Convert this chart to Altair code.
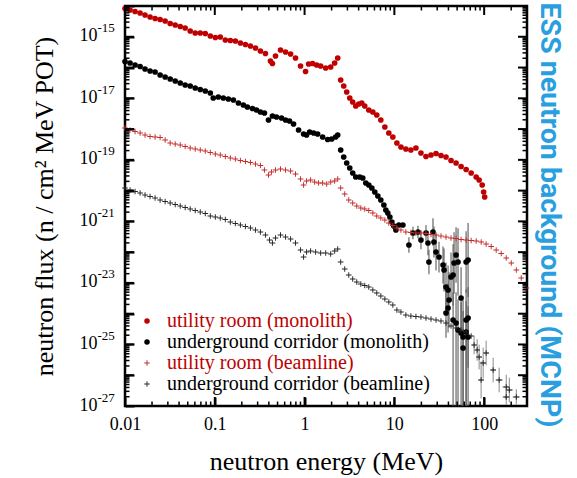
import altair as alt
import pandas as pd

# ---------------- data (log10 of energy in MeV, log10 of flux) ----------------
SERIES = ["utility room (monolith)", "underground corridor (monolith)",
          "utility room (beamline)", "underground corridor (beamline)"]

util_mono_logE = [-2.000,-1.944,-1.888,-1.832,-1.777,-1.721,-1.665,-1.609,-1.553,-1.497,
                  -1.441,-1.385,-1.330,-1.274,-1.218,-1.162,-1.106,-1.050,-0.994,-0.939,
                  -0.883,-0.827,-0.771,-0.715,-0.659,-0.603,-0.547,-0.492,-0.436,-0.380,
                  -0.358,-0.324,-0.268,-0.212,-0.156,-0.101,-0.045,0.011,0.045,0.089,
                  0.134,0.179,0.235,0.291,0.335,0.369,0.402,0.436,0.469,0.503,
                  0.536,0.570,0.603,0.637,0.670,0.715,0.760,0.804,0.849,0.894,
                  0.938,0.983,1.028,1.073,1.128,1.184,1.240,1.296,1.352,1.408,
                  1.464,1.519,1.575,1.631,1.687,1.743,1.799,1.855,1.911,1.944,
                  1.978,1.994,2.006]
util_mono_logF = [-14.081,-14.130,-14.179,-14.228,-14.293,-14.358,-14.406,-14.439,-14.488,-14.569,
                  -14.618,-14.666,-14.715,-14.813,-14.878,-14.878,-14.894,-14.975,-15.024,-15.008,
                  -15.105,-15.121,-15.138,-15.203,-15.251,-15.300,-15.365,-15.463,-15.544,-15.788,
                  -15.869,-15.625,-15.430,-15.495,-15.560,-15.690,-15.950,-16.129,-15.885,-15.869,
                  -15.918,-15.950,-16.015,-15.983,-15.853,-15.690,-16.405,-16.600,-16.795,-16.990,
                  -17.120,-17.250,-17.185,-17.153,-17.250,-17.380,-17.445,-17.543,-17.705,-17.933,
                  -18.128,-18.258,-18.453,-18.583,-18.648,-18.680,-18.615,-18.778,-18.891,-18.843,
                  -18.794,-18.859,-18.908,-19.021,-19.103,-19.216,-19.314,-19.428,-19.558,-19.655,
                  -19.818,-20.045,-20.208]

corr_mono_logE = [-2.000,-1.944,-1.888,-1.832,-1.777,-1.721,-1.665,-1.609,-1.553,-1.497,
                  -1.441,-1.385,-1.330,-1.274,-1.218,-1.162,-1.106,-1.050,-1.017,-0.961,
                  -0.905,-0.849,-0.793,-0.737,-0.682,-0.637,-0.581,-0.536,-0.492,-0.447,
                  -0.402,-0.358,-0.313,-0.257,-0.212,-0.168,-0.123,-0.067,-0.011,0.022,
                  0.056,0.101,0.145,0.201,0.257,0.302,0.346,0.369,0.402,0.436,
                  0.469,0.503,0.536,0.570,0.614,0.648,0.682,0.715,0.749,0.782,
                  0.816,0.849,0.883,0.905,0.927,0.950,0.972,0.994,1.017,1.050,
                  1.095]
corr_mono_logF = [-15.804,-15.853,-15.918,-15.966,-16.048,-16.113,-16.145,-16.243,-16.308,-16.373,
                  -16.438,-16.503,-16.568,-16.600,-16.665,-16.714,-16.763,-16.828,-16.990,-16.958,
                  -16.990,-17.023,-17.055,-17.153,-17.218,-17.283,-17.331,-17.380,-17.445,-17.478,
                  -17.705,-17.575,-17.608,-17.640,-17.705,-17.738,-17.835,-18.030,-18.160,-18.193,
                  -18.095,-18.128,-18.160,-18.258,-18.339,-18.323,-18.258,-18.193,-18.680,-18.908,
                  -19.103,-19.265,-19.428,-19.558,-19.558,-19.590,-19.753,-19.818,-19.915,-20.045,
                  -20.175,-20.305,-20.468,-20.630,-20.728,-20.858,-21.020,-21.150,-21.280,-21.118,
                  -21.118]

# high-energy part of the corridor (monolith) series, with its error bars
corr_mono_tail_logE = [1.162,1.207,1.263,1.296,1.352,1.374,1.385,1.430,1.441,1.464,
                       1.497,1.542,1.553,1.575,1.598,1.631,1.654,1.665,1.687,1.709,
                       1.799,1.821,1.575,1.598,1.609,1.654,1.687,1.709,1.743,1.743,
                       1.765,1.765,1.799,1.799,1.821,1.821]
corr_mono_tail_logF = [-21.768,-21.378,-21.345,-21.605,-21.378,-21.703,-22.320,-21.345,-21.670,-21.995,
                       -22.158,-22.418,-22.580,-23.133,-23.230,-22.808,-22.743,-22.353,-22.093,-22.320,
                       -22.320,-22.255,-23.978,-23.815,-23.555,-24.205,-24.303,-24.530,-23.490,-24.628,
                       -24.758,-25.115,-24.205,-24.595,-24.140,-24.758]
# ends of the error bars (log10 flux; -27 = running off the bottom of the plot)
corr_mono_tail_err_lo = [-22.018,-21.578,-21.545,-21.905,-21.628,-22.103,-22.720,-21.795,-22.170,-22.595,
                         -22.658,-23.018,-23.280,-23.933,-24.030,-23.608,-23.743,-23.353,-22.993,-23.420,
                         -23.320,-23.455,-24.778,-24.615,-24.455,-27.0,-27.0,-27.0,-24.490,-27.0,
                         -27.0,-27.0,-27.0,-27.0,-27.0,-25.758]
corr_mono_tail_err_hi = [-21.518,-21.178,-21.145,-21.305,-21.128,-21.303,-21.920,-20.895,-21.170,-21.395,
                         -21.658,-21.818,-21.880,-22.333,-22.430,-22.008,-21.743,-21.353,-21.193,-21.220,
                         -21.320,-21.055,-23.178,-23.015,-22.655,-23.305,-23.303,-23.530,-22.490,-23.628,
                         -23.558,-23.915,-23.205,-23.595,-23.140,-23.758]

util_beam_logE = [-2.000,-1.944,-1.888,-1.832,-1.777,-1.721,-1.665,-1.609,-1.553,-1.497,
                  -1.441,-1.385,-1.330,-1.274,-1.218,-1.162,-1.106,-1.050,-0.994,-0.939,
                  -0.883,-0.827,-0.771,-0.715,-0.659,-0.603,-0.547,-0.492,-0.447,-0.402,
                  -0.369,-0.324,-0.268,-0.212,-0.156,-0.101,-0.045,-0.011,0.022,0.067,
                  0.112,0.156,0.201,0.246,0.291,0.335,0.369,0.402,0.447,0.492,
                  0.536,0.581,0.626,0.670,0.715,0.760,0.804,0.849,0.894,0.938,
                  0.983,1.028,1.073,1.128,1.184,1.240,1.296,1.352,1.408,1.464,
                  1.519,1.575,1.631,1.687,1.743,1.799,1.855,1.911,1.967,2.022,
                  2.078,2.134,2.190,2.246,2.302,2.358,2.413,2.469]
util_beam_logF = [-17.965,-18.030,-18.079,-18.128,-18.193,-18.241,-18.258,-18.274,-18.355,-18.453,
                  -18.485,-18.518,-18.566,-18.615,-18.648,-18.680,-18.713,-18.761,-18.810,-18.843,
                  -18.891,-18.940,-18.973,-19.021,-19.054,-19.086,-19.135,-19.184,-19.330,-19.493,
                  -19.395,-19.330,-19.298,-19.330,-19.363,-19.460,-19.623,-19.818,-19.688,-19.655,
                  -19.720,-19.753,-19.753,-19.785,-19.720,-19.688,-19.623,-19.915,-20.110,-20.305,
                  -20.403,-20.500,-20.565,-20.598,-20.646,-20.728,-20.825,-20.890,-20.955,-21.053,
                  -21.134,-21.215,-21.280,-21.345,-21.361,-21.378,-21.378,-21.394,-21.426,-21.443,
                  -21.475,-21.508,-21.540,-21.556,-21.589,-21.605,-21.621,-21.638,-21.670,-21.735,
                  -21.816,-21.930,-22.044,-22.190,-22.353,-22.580,-22.840,-23.165]

corr_beam_logE = [-2.000,-1.944,-1.888,-1.832,-1.777,-1.721,-1.665,-1.609,-1.553,-1.497,
                  -1.441,-1.385,-1.330,-1.274,-1.218,-1.162,-1.106,-1.050,-0.994,-0.939,
                  -0.883,-0.827,-0.771,-0.715,-0.659,-0.603,-0.547,-0.492,-0.436,-0.391,
                  -0.358,-0.324,-0.268,-0.212,-0.156,-0.101,-0.045,-0.011,0.022,0.067,
                  0.123,0.179,0.235,0.291,0.335,0.369,0.402,0.447,0.492,0.536,
                  0.581,0.626,0.670,0.715,0.760,0.804,0.849,0.894,0.938,0.983,
                  1.028,1.073,1.128,1.184,1.240,1.296,1.352,1.408,1.464,1.519,
                  1.575,1.631,1.687,1.743,1.799,1.855]
corr_beam_logF = [-19.915,-19.980,-20.029,-20.078,-20.143,-20.191,-20.240,-20.305,-20.354,-20.403,
                  -20.451,-20.500,-20.549,-20.598,-20.646,-20.695,-20.744,-20.825,-20.858,-20.890,
                  -20.939,-21.020,-21.069,-21.118,-21.166,-21.215,-21.280,-21.345,-21.443,-21.605,
                  -21.703,-21.540,-21.443,-21.508,-21.573,-21.703,-21.930,-22.158,-21.995,-21.963,
                  -21.995,-22.028,-22.028,-22.060,-21.963,-21.898,-22.320,-22.548,-22.743,-22.873,
                  -22.970,-23.035,-23.084,-23.133,-23.230,-23.328,-23.425,-23.523,-23.620,-23.718,
                  -23.880,-23.945,-24.043,-24.075,-24.091,-24.108,-24.140,-24.173,-24.205,-24.238,
                  -24.303,-24.400,-24.465,-24.530,-24.595,-24.725]

corr_beam_tail_logE = [1.888,1.922,1.944,1.989,2.022,1.966,2.100,2.167,2.246,2.280,2.246,2.358]
corr_beam_tail_logF = [-25.018,-25.180,-25.408,-25.603,-25.278,-26.155,-25.830,-26.155,-26.383,-26.480,-26.708,-26.708]
corr_beam_tail_yerr = [0.3,0.35,0.4,0.5,0.4,0.6,0.4,0.4,0.4,0.4,0.25,0.25]
corr_beam_tail_xerr = [0.02,0.02,0.03,0.03,0.03,0.03,0.03,0.04,0.04,0.04,0.04,0.04]

# ---------------- axes / styling ----------------
X_DOMAIN = [0.01, 300]
Y_DOMAIN = [1e-27, 1e-14]
X_MAJOR = [0.01, 0.1, 1, 10, 100]
X_MINOR = [0.02, 0.03, 0.04, 0.05, 0.06, 0.07, 0.08, 0.09,
           0.2, 0.3, 0.4, 0.5, 0.6, 0.7, 0.8, 0.9,
           2, 3, 4, 5, 6, 7, 8, 9,
           20, 30, 40, 50, 60, 70, 80, 90, 200]
Y_DECADES = [-27, -26, -25, -24, -23, -22, -21, -20, -19, -18, -17, -16, -15, -14]
Y_LABELED = [-27, -25, -23, -21, -19, -17, -15]
MINOR_MULT = [2, 3, 4, 5, 6, 7, 8, 9]
Y_MAJOR = [10.0 ** d for d in Y_DECADES]
Y_LABEL_VALUES = [10.0 ** d for d in Y_LABELED]
Y_MINOR = [m * 10.0 ** d for d in Y_DECADES[:-1] for m in MINOR_MULT]

COLORS = ["#c00000", "#000000", "#c42a2a", "#262626"]
THIN_PLUS = "M-1,-0.17H-0.17V-1H0.17V-0.17H1V0.17H0.17V1H-0.17V0.17H-1Z"
SHAPES = ["circle", "circle", THIN_PLUS, THIN_PLUS]
SERIF = "Liberation Serif"
INK = "#000000"
W, H = 402, 400

# ---------------- tables ----------------
rows = []
for name, le, lf in [(SERIES[0], util_mono_logE, util_mono_logF),
                     (SERIES[1], corr_mono_logE + corr_mono_tail_logE, corr_mono_logF + corr_mono_tail_logF),
                     (SERIES[2], util_beam_logE, util_beam_logF),
                     (SERIES[3], corr_beam_logE + corr_beam_tail_logE, corr_beam_logF + corr_beam_tail_logF)]:
    for a, b in zip(le, lf):
        rows.append({"series": name, "E": 10 ** a, "F": 10 ** b})
points_df = pd.DataFrame(rows)

err_mono_df = pd.DataFrame({
    "E": [10 ** a for a in corr_mono_tail_logE],
    "lo": [10 ** b for b in corr_mono_tail_err_lo],
    "hi": [10 ** b for b in corr_mono_tail_err_hi],
})
err_beam_df = pd.DataFrame({
    "E": [10 ** a for a in corr_beam_tail_logE],
    "F": [10 ** b for b in corr_beam_tail_logF],
    "lo": [10 ** (b - e) for b, e in zip(corr_beam_tail_logF, corr_beam_tail_yerr)],
    "hi": [10 ** (b + e) for b, e in zip(corr_beam_tail_logF, corr_beam_tail_yerr)],
    "Elo": [10 ** (a - e) for a, e in zip(corr_beam_tail_logE, corr_beam_tail_xerr)],
    "Ehi": [10 ** (a + e) for a, e in zip(corr_beam_tail_logE, corr_beam_tail_xerr)],
})
frame_df = pd.DataFrame({"E": X_DOMAIN, "F": Y_DOMAIN})

xs = alt.Scale(type="log", domain=X_DOMAIN, nice=False)
ys = alt.Scale(type="log", domain=Y_DOMAIN, nice=False)


# inward tick marks, placed through the shared log scales
def x_ticks(values, y0, y1, width):
    return alt.Chart(pd.DataFrame({"tx": values})).mark_rule(color=INK, strokeWidth=width).encode(
        x=alt.X("tx:Q", scale=xs, axis=None), y=alt.value(y0), y2=alt.value(y1))


def y_ticks(values, x0, x1, width):
    return alt.Chart(pd.DataFrame({"ty": values})).mark_rule(color=INK, strokeWidth=width).encode(
        y=alt.Y("ty:Q", scale=ys, axis=None), x=alt.value(x0), x2=alt.value(x1))


tick_layers = [
    x_ticks(X_MAJOR, H, H - 9, 2), x_ticks(X_MINOR, H, H - 4.5, 1.5),
    x_ticks(X_MAJOR, 0, 9, 2), x_ticks(X_MINOR, 0, 4.5, 1.5),
    y_ticks(Y_MAJOR, 0, 9, 2), y_ticks(Y_MINOR, 0, 4.5, 1.5),
    y_ticks(Y_MAJOR, W, W - 9, 2), y_ticks(Y_MINOR, W, W - 4.5, 1.5),
]

err_mono = alt.Chart(err_mono_df).mark_rule(color="#5a5a5a", strokeWidth=1.3, opacity=0.85).encode(
    x=alt.X("E:Q", scale=xs, axis=None),
    y=alt.Y("lo:Q", scale=ys, axis=None),
    y2="hi:Q",
)
err_beam_v = alt.Chart(err_beam_df).mark_rule(color="#6e6e6e", strokeWidth=1, opacity=0.8).encode(
    x=alt.X("E:Q", scale=xs, axis=None),
    y=alt.Y("lo:Q", scale=ys, axis=None),
    y2="hi:Q",
)
err_beam_h = alt.Chart(err_beam_df).mark_rule(color="#6e6e6e", strokeWidth=1, opacity=0.8).encode(
    x=alt.X("Elo:Q", scale=xs, axis=None),
    x2="Ehi:Q",
    y=alt.Y("F:Q", scale=ys, axis=None),
)

leg = alt.Legend(
    title=None, orient="bottom-left", offset=12,
    labelFont=SERIF, labelFontSize=20, labelOffset=10, labelLimit=400,
    rowPadding=1, symbolSize=30,
    labelColor=alt.ExprRef(expr="indexof(datum.label, 'utility') === 0 ? '#c00000' : '#000000'"),
)
points = alt.Chart(points_df).mark_point(filled=True, opacity=1, size=32).encode(
    x=alt.X("E:Q", scale=xs, axis=None),
    y=alt.Y("F:Q", scale=ys, axis=None),
    color=alt.Color("series:N", scale=alt.Scale(domain=SERIES, range=COLORS), legend=leg),
    shape=alt.Shape("series:N", scale=alt.Scale(domain=SERIES, range=SHAPES), legend=leg),
)


def axis_layer(xaxis, yaxis):
    return alt.Chart(frame_df).mark_point(opacity=0).encode(
        x=alt.X("E:Q", scale=xs, axis=xaxis),
        y=alt.Y("F:Q", scale=ys, axis=yaxis),
    )


bottom_major = alt.Axis(
    orient="bottom", values=X_MAJOR, offset=-9, tickSize=9, tickWidth=2, tickColor=INK,
    format="~g", labelFlush=False, labelOverlap=False,
    labelFont=SERIF, labelFontSize=18, labelColor=INK, labelPadding=9,
    title="neutron energy (MeV)", titleFont=SERIF, titleFontSize=26, titleFontWeight="normal",
    titleColor=INK, titlePadding=15, domainOpacity=0, gridOpacity=0,
)
left_major = alt.Axis(
    orient="left", values=Y_MAJOR, offset=-9, tickSize=9, tickWidth=2, tickColor=INK,
    labelOverlap=False, labelFlush=False,
    labelExpr="(round(log(datum.value) / LN10) % 2 != 0) ? '10' : ''",
    labelFont=SERIF, labelFontSize=18, labelColor=INK, labelPadding=28, labelOffset=-1,
    title="neutron flux (n / cm² MeV POT)", titleFont=SERIF, titleFontSize=26,
    titleFontWeight="normal", titleColor=INK, titlePadding=22, domainOpacity=0, gridOpacity=0,
)
left_exp = alt.Axis(
    orient="left", values=Y_LABEL_VALUES, ticks=False, tickSize=0, domain=False, grid=False,
    labelOverlap=False, labelFlush=False,
    labelExpr="'-' + format(-log(datum.value) / LN10, '.0f')",
    labelFont=SERIF, labelFontSize=13, labelColor=INK, labelAlign="left",
    labelPadding=28, labelOffset=-9, title=None,
)

layers = [err_mono, err_beam_v, err_beam_h, points] + tick_layers + [
    axis_layer(bottom_major, left_major),
    axis_layer(None, left_exp),
]

chart = alt.layer(*layers).resolve_axis(x="independent", y="independent").properties(
    width=W, height=H,
    autosize=alt.AutoSizeParams(type="none"),
    padding={"left": 125, "top": 6, "right": 50, "bottom": 72},
    background="white",
    title=alt.TitleParams(
        text="ESS neutron background (MCNP)", orient="right", anchor="middle", dx=9,
        font="Roboto", fontSize=28.5, fontWeight="bold", color="#2a9fe0", offset=6,
    ),
).configure_view(stroke=INK, strokeWidth=2.5).configure_legend(labelFont=SERIF, labelFontSize=20)

chart.save("out.html", embed_options={"renderer": "svg", "actions": False})
